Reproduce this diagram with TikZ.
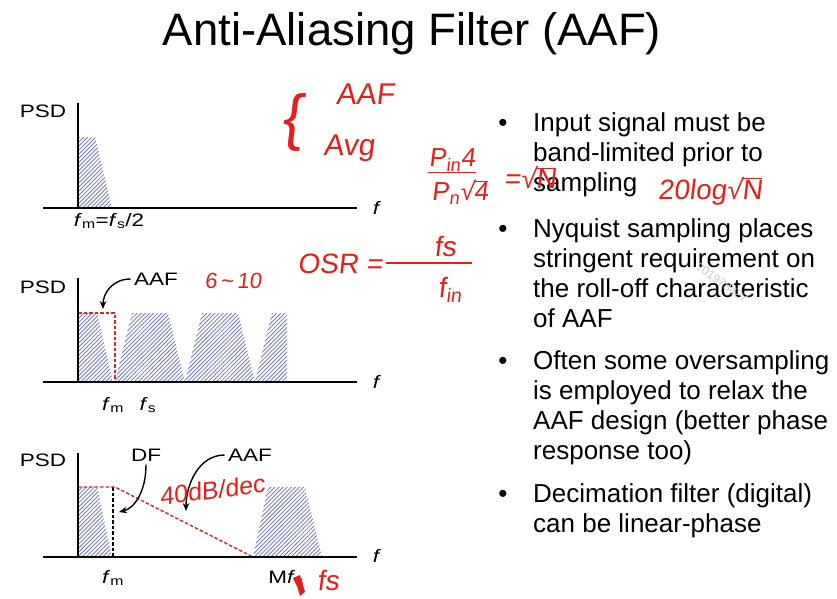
\documentclass[tikz,border=0pt]{standalone}
\usepackage{fontspec}
\setmainfont{Liberation Sans}
\newfontfamily\plotfont{Liberation Sans}[FakeStretch=1.25]
\newfontfamily\handfont{Liberation Sans}[FakeSlant=0.12]
\usetikzlibrary{arrows.meta,patterns.meta,positioning,calc}
\definecolor{hatch}{RGB}{115,120,205}
\definecolor{ink}{RGB}{228,32,28}
\definecolor{aafred}{RGB}{210,40,40}

\begin{document}
\begin{tikzpicture}[x=1pt,y=-1pt,
  axis/.style={line width=1.6pt},
  band/.style={pattern={Lines[angle=45,distance=2.9pt,line width=0.85pt]},pattern color=hatch},
  aafline/.style={aafred,line width=1.4pt,dash pattern=on 3.5pt off 2pt},
  dfline/.style={black,line width=1.3pt,dash pattern=on 3.5pt off 2pt},
  conn/.style={-{Stealth[length=8pt,width=6.5pt]},line width=1.4pt},
  plotlbl/.style={font=\plotfont\fontsize{18}{21}\selectfont},
  bul/.style={anchor=base,font=\fontsize{26}{30}\selectfont},
  btext/.style={anchor=north west,inner sep=0pt,align=left,font=\fontsize{26}{30.3}\selectfont},
  note/.style={ink,font=\handfont\fontsize{#1}{#1}\selectfont,inner sep=1pt},
  note/.default=28]
  \useasboundingbox (0,0) rectangle (837,598);
  \fill[white] (0,0) rectangle (837,598);

  % title
  \node[anchor=base,font=\fontsize{45.5}{50}\selectfont] (title) at (412,45) {Anti-Aliasing Filter (AAF)};

  % panel 1: Nyquist rate
  \path[band] (78,208) -- (78,137) -- (95,137) -- (112,208) -- cycle;
  \draw[axis] (43,208) -- (357,208);
  \draw[axis] (78,208) -- (78,103);
  \node[plotlbl] (psd1) at (43,111) {PSD};
  \node[plotlbl] (f1) at (377,208) {\textit{f}};
  \node[plotlbl] (fm1) at (109,221) {\textit{f}\textsubscript{m}=\textit{f}\textsubscript{s}/2};

  % panel 2: aliased images
  \path[band] (78,382) -- (78,313) -- (97,313) -- (113,382) -- cycle;
  \begin{scope}
    \clip (78,300) rectangle (287,382);
    \foreach \c in {150,220,290}
      \path[band] (\c-35,382) -- (\c-18,313) -- (\c+18,313) -- (\c+35,382) -- cycle;
  \end{scope}
  \draw[aafline] (78,313) -- (115,313) -- (115,382);
  \draw[axis] (43,382) -- (357,382);
  \draw[axis] (78,382) -- (78,278);
  \node[plotlbl] (psd2) at (43,287) {PSD};
  \node[plotlbl] (f2) at (377,382) {\textit{f}};
  \node[plotlbl] (fm2) at (113,405) {\textit{f}\textsubscript{m}};
  \node[plotlbl] (fs2) at (148,405) {\textit{f}\textsubscript{s}};
  \node[plotlbl] (aaf2) at (156,279) {AAF};
  \coordinate (aafp2) at (103,309);
  \draw[conn] (aaf2.west) .. controls +(-18,0) and +(0,-16) .. (aafp2);

  % panel 3: oversampling
  \path[band] (78,557) -- (78,487) -- (97,487) -- (112,557) -- cycle;
  \path[band] (253,557) -- (268,487) -- (305,487) -- (322,557) -- cycle;
  \draw[dfline] (113,487) -- (113,557);
  \draw[aafline] (78,487) -- (115,487) -- (253,557);
  \draw[axis] (43,557) -- (357,557);
  \draw[axis] (78,557) -- (78,453);
  \node[plotlbl] (psd3) at (43,460) {PSD};
  \node[plotlbl] (f3) at (377,556) {\textit{f}};
  \node[plotlbl] (fm3) at (113,578) {\textit{f}\textsubscript{m}};
  \node[plotlbl] (mfs3) at (286,578) {M\textit{f}\textsubscript{s}};
  \node[plotlbl] (df3) at (146,455) {DF};
  \node[plotlbl] (aaf3) at (250,455) {AAF};
  \coordinate (dfp3) at (119,512);
  \coordinate (aafp3) at (186,511);
  \draw[conn] (df3.south) .. controls +(0,26) and +(16,-4) .. (dfp3);
  \draw[conn] (aaf3.west) .. controls +(-26,0) and +(0,-26) .. (aafp3);

  % bullets
  \node[bul] (d1) at (503,131) {•};
  \node[btext] (b1) at (533,112) {Input signal must be\\band-limited prior to\\sampling};
  \node[bul] (d2) at (503,237) {•};
  \node[btext] (b2) at (533,218) {Nyquist sampling places\\stringent requirement on\\the roll-off characteristic\\of AAF};
  \node[bul] (d3) at (503,369) {•};
  \node[btext] (b3) at (533,350) {Often some oversampling\\is employed to relax the\\AAF design (better phase\\response too)};
  \node[bul] (d4) at (503,502) {•};
  \node[btext] (b4) at (533,483) {Decimation filter (digital)\\can be linear-phase};

  % watermark
  \node[gray!40,rotate=-35,font=\fontsize{12}{12}\selectfont] (wm) at (722,283) {701978427};

  % handwritten notes
  \node[note=62] (brace) at (292,122) {\{};
  \node[note=30] (naaf) at (365,94) {AAF};
  \node[note=30] (navg) at (349,148) {Avg};
  \node[note=26] (pin) at (452,160) {P\textsubscript{in}4};
  \node[note=26] (pn) at (460,192) {P\textsubscript{n}√$\overline{\mbox{4}}$};
  \draw[ink,line width=1.3pt] (pin.south west) -- (pin.south east);
  \node[note=28] (nsq) at (530,178) {=√$\overline{\mbox{N}}$};
  \node[note=28] (nlog) at (710,191) {20log√$\overline{\mbox{N}}$};
  \node[note=28] (osr) at (340,264) {OSR =};
  \node[note=28] (nfs) at (445,246) {fs};
  \node[note=28] (nfin) at (450,290) {f\textsubscript{in}};
  \draw[ink,line width=1.3pt] ($(osr.east)+(2,-1)$) -- (472,263);
  \node[note=22] (n610) at (233,281) {6\,\textasciitilde\,10};
  \node[note=25,rotate=7] (nslope) at (212,490) {40dB/dec};
  \node[note=28] (nfs3) at (328,580) {fs};
  \fill[ink] (293,578) -- (300,575) -- (305,592) -- (300,596) -- (297,586) -- cycle;
\end{tikzpicture}
\end{document}
